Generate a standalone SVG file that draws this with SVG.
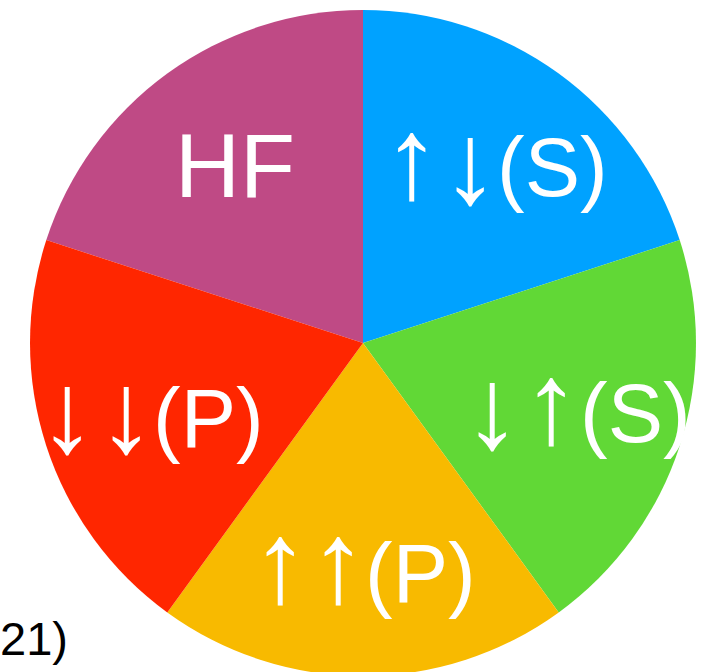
<svg xmlns="http://www.w3.org/2000/svg" width="711" height="672" viewBox="0 0 711 672">
<style>
.lbl{font-family:"Liberation Sans",Arial,sans-serif;font-size:83px;fill:#ffffff}
.hf{font-size:90px}
.ar{font-family:"Liberation Sans",Arial,sans-serif;font-size:116px;fill:#ffffff;text-anchor:middle}
.cap{font-family:"Liberation Sans",Arial,sans-serif;font-size:47px;fill:#000000}
</style>
<rect width="711" height="672" fill="#ffffff"/>
<g id="sector-hf"><path d="M363,343 L363,10 A333,333 0 0 0 46.3,240.1 Z" fill="#BF4A85"/><text class="lbl hf" x="175" y="197">HF</text></g>
<g id="sector-ud-s"><path d="M363,343 L363,10 A333,333 0 0 1 679.7,240.1 Z" fill="#00A2FF"/><text class="ar" y="198"><tspan x="411.5">↑</tspan><tspan x="470" dy="5">↓</tspan></text><text class="lbl" x="497" y="196">(S)</text></g>
<g id="sector-du-s"><path d="M363,343 L679.7,240.1 A333,333 0 0 1 558.7,612.4 Z" fill="#61D836"/><text class="ar" y="443"><tspan x="492" dy="5">↓</tspan><tspan x="551" dy="-5">↑</tspan></text><text class="lbl" x="580" y="442">(S)</text></g>
<g id="sector-uu-p"><path d="M363,343 L558.7,612.4 A333,333 0 0 1 167.3,612.4 Z" fill="#F8BA00"/><text class="ar" y="602"><tspan x="280">↑</tspan><tspan x="338">↑</tspan></text><text class="lbl" x="365" y="602">(P)</text></g>
<g id="sector-dd-p"><path d="M363,343 L167.3,612.4 A333,333 0 0 1 46.3,240.1 Z" fill="#FF2600"/><text class="ar" y="452"><tspan x="67">↓</tspan><tspan x="126">↓</tspan></text><text class="lbl" x="153" y="447">(P)</text></g>
<g id="connectors"></g>
<text class="cap" x="0" y="655">21)</text>
</svg>
